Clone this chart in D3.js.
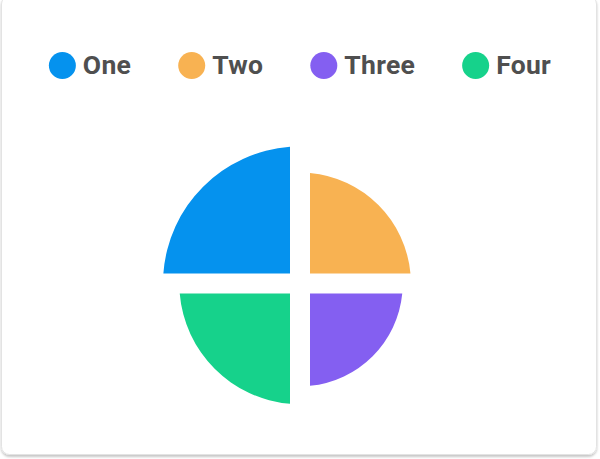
<!DOCTYPE html>
<html>
<head>
<meta charset="utf-8">
<script src="https://cdn.jsdelivr.net/npm/d3@7"></script>
<style>
  body { margin: 0; background: #ffffff; }
  svg { display: block; font-family: Roboto, "Noto Sans", sans-serif; }
</style>
</head>
<body>
<div id="chart"></div>
<script>
// données du graphique polaire
const labels = ["One", "Two", "Three", "Four"];
const values = [42, 34, 31.5, 37];
const colors = ["#0592EE", "#F8B252", "#845FF1", "#16D28B"];

const width = 600;
const height = 459;

const svg = d3.select("#chart")
    .append("svg")
    .attr("width", width)
    .attr("height", height);

// ombre de la carte
const defs = svg.append("defs");
const filter = defs.append("filter")
    .attr("id", "shadow")
    .attr("x", "-5%").attr("y", "-5%")
    .attr("width", "110%").attr("height", "110%");
filter.append("feDropShadow")
    .attr("dx", 0).attr("dy", 2)
    .attr("stdDeviation", 1.2)
    .attr("flood-color", "#000")
    .attr("flood-opacity", 0.22);

// carte blanche
svg.append("rect")
    .attr("x", 1.5)
    .attr("y", -4)
    .attr("width", 595)
    .attr("height", 458.5)
    .attr("rx", 8)
    .attr("fill", "#ffffff")
    .attr("stroke", "#e3e3e3")
    .attr("filter", "url(#shadow)");

// légende
const legend = svg.append("g").attr("class", "legend");
const markerR = 13.5;
const items = legend.selectAll("g")
    .data(labels)
    .join("g");

items.append("circle")
    .attr("r", markerR)
    .attr("cx", markerR)
    .attr("cy", 0)
    .attr("fill", (d, i) => colors[i]);

items.append("text")
    .attr("x", markerR * 2 + 7)
    .attr("y", 8.5)
    .attr("fill", "#4f4f4f")
    .style("font-size", "26.5px")
    .style("font-weight", "bold")
    .style("letter-spacing", "0.3px")
    .text(d => d);

// calcul des positions de la légende (centrée)
const gap = 47;
const widths = items.nodes().map(n => n.getBBox().width);
const total = d3.sum(widths) + gap * (widths.length - 1);
let cursor = (width - total) / 2;
items.attr("transform", (d, i) => {
    const x = cursor;
    cursor += widths[i] + gap;
    return `translate(${x},65.5)`;
});

// graphique polaire
const cx = 300, cy = 283.5;
const g = svg.append("g").attr("transform", `translate(${cx},${cy})`);

const r = d3.scaleLinear()
    .domain([0, d3.max(values)])
    .range([0, 137]);

const angle = d3.scaleBand()
    .domain(labels)
    .range([-Math.PI / 2, Math.PI * 1.5]);

const halfGap = 10;
const arc = d3.arc()
    .innerRadius(halfGap * Math.SQRT2 + 0.05)
    .outerRadius((d, i) => r(values[i]))
    .startAngle(d => angle(d))
    .endAngle(d => angle(d) + angle.bandwidth())
    .padRadius(100)
    .padAngle(2 * Math.asin(halfGap / 100));

g.selectAll("path")
    .data(labels)
    .join("path")
    .attr("d", arc)
    .attr("fill", (d, i) => colors[i]);
</script>
</body>
</html>
